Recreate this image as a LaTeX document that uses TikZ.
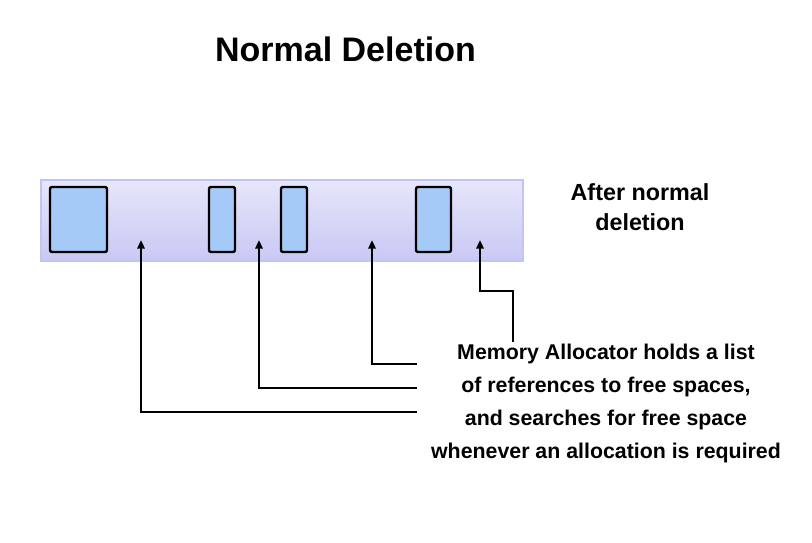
\documentclass[tikz,border=0pt]{standalone}
\usepackage{fontspec}
\setmainfont{Liberation Sans}
\usetikzlibrary{arrows.meta}
\definecolor{bandtop}{HTML}{E6E6FB}
\definecolor{bandbot}{HTML}{C8C8F5}
\definecolor{bandedge}{HTML}{C4C4F3}
\definecolor{usedfill}{HTML}{A6CAF8}
\begin{document}
\begin{tikzpicture}[x=0.75pt,y=-0.75pt,
    used/.style={draw=black,fill=usedfill,line width=1.8pt,rounded corners=1.5pt},
    ptr/.style={draw=black,line width=1.8pt,-{Triangle[length=6.5pt,width=5.5pt]}},
    title/.style={font=\fontsize{25.5}{30}\selectfont\bfseries,inner sep=0pt},
    note/.style={align=center,inner sep=0pt,font=\fontsize{16}{24.75}\selectfont\bfseries}]
    \useasboundingbox (0,0) rectangle (812,542);
    % heading
    \node[title,anchor=base] (head) at (345.5,61) {Normal Deletion};
    % memory band
    \shade[top color=bandtop,bottom color=bandbot] (41,180) rectangle (523,261);
    \draw[bandedge,line width=1.2pt] (41,180) rectangle (523,261);
    \foreach \l/\r in {50/107,209/235,281/307,416/451}
        \draw[used] (\l,187) rectangle (\r,252);
    \node[note,font=\fontsize{17.5}{22.5}\selectfont\bfseries] (state) at (640,207) {After normal\\deletion};
    % free spaces
    \coordinate (free1) at (141,240);
    \coordinate (free2) at (259,240);
    \coordinate (free3) at (372,240);
    \coordinate (free4) at (480,240);
    % allocator
    \node[note] (alloc) at (606,403) {Memory Allocator holds a list\\of references to free spaces,\\and searches for free space\\whenever an allocation is required};
    \coordinate (s1) at (417,412);
    \coordinate (s2) at (417,388);
    \coordinate (s3) at (417,364);
    \coordinate (s4) at (513,342);
    \coordinate (bend4) at (480,291);
    \draw[ptr] (s1) -| (free1);
    \draw[ptr] (s2) -| (free2);
    \draw[ptr] (s3) -| (free3);
    \draw[ptr] (s4) |- (bend4) -- (free4);
\end{tikzpicture}
\end{document}
